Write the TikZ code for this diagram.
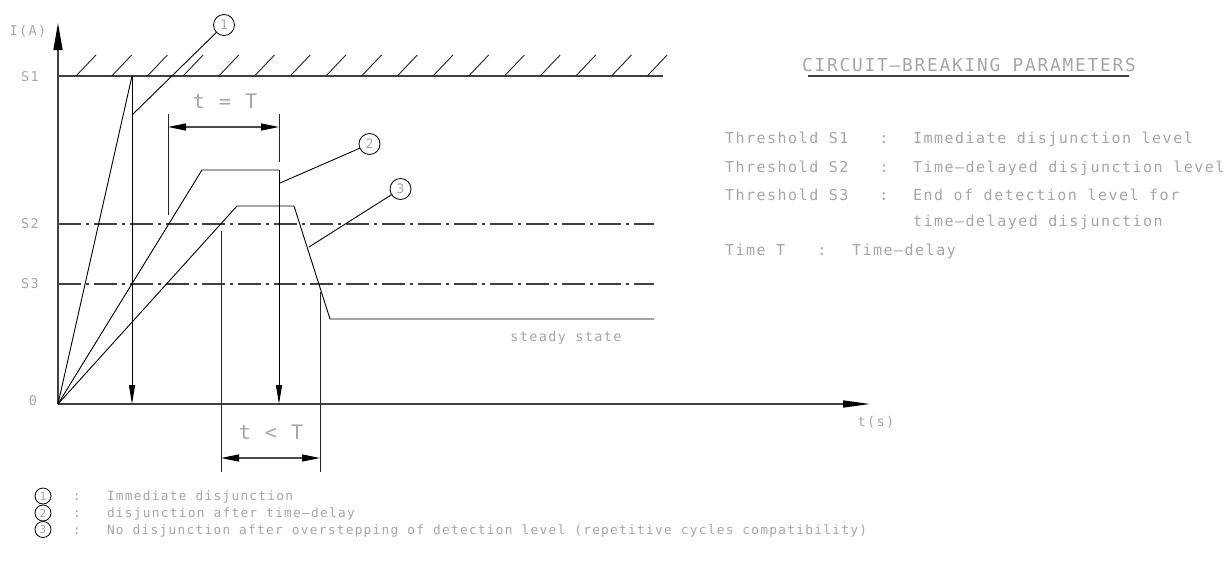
\documentclass[tikz,border=0pt]{standalone}
\usepackage{fontspec}
\setmainfont{DejaVu Sans}
\newfontfamily\cadfont[LetterSpace=10]{DejaVu Sans Mono}
\usetikzlibrary{arrows.meta}
\definecolor{txt}{HTML}{A6A6A6}
\begin{document}
\begin{tikzpicture}[x=1pt,y=-1pt,
  every node/.style={inner sep=0pt, outer sep=0pt},
  txtA/.style={text=txt, font=\cadfont\fontsize{13.5}{16}\selectfont},
  txtB/.style={text=txt, font=\cadfont\fontsize{15}{18}\selectfont},
  txtC/.style={text=txt, font=\cadfont\fontsize{12.8}{15}\selectfont},
  txtD/.style={text=txt, font=\cadfont\fontsize{20}{24}\selectfont},
  txtT/.style={text=txt, font=\cadfont\fontsize{17.8}{20}\selectfont},
  curve/.style={line width=0.9pt, black},
  axis/.style={line width=1.4pt, black!75},
  ctr/.style={dash pattern=on 23pt off 5pt on 3pt off 5pt, line width=1.2pt, black!75},
  ext/.style={line width=0.9pt, black!85},
  dimline/.style={line width=1.3pt, black!70, {Triangle[length=18pt,width=7pt,black]}-{Triangle[length=18pt,width=7pt,black]}},
  downarrow/.style={curve, -{Triangle[length=19pt,width=6pt]}},
  callout/.style={circle, draw=black, line width=0.8pt, minimum size=21pt, text=txt, font=\cadfont\fontsize{13}{14}\selectfont},
  legcirc/.style={circle, draw=black, line width=0.8pt, minimum size=16pt, text=txt, font=\cadfont\fontsize{11}{12}\selectfont},
]
\useasboundingbox (0,0) rectangle (1230,562);
\fill[white] (0,0) rectangle (1230,562);

% coordinates
\coordinate (O) at (58,404);
\coordinate (Ytip) at (58,23);
\coordinate (Xtip) at (870,404);
\coordinate (S1L) at (58,76);   \coordinate (S1R) at (663,76);
\coordinate (S2L) at (58,224);  \coordinate (S2R) at (654,224);
\coordinate (S3L) at (58,284);  \coordinate (S3R) at (654,284);
\coordinate (A1) at (132,76);   \coordinate (A1b) at (132,404);
\coordinate (B1) at (202,170);  \coordinate (B2) at (279,170); \coordinate (B2b) at (279,404);
\coordinate (C1) at (237,206);  \coordinate (C2) at (294,206);
\coordinate (C3) at (330,319);  \coordinate (C4) at (654,319);
\coordinate (L1) at (132,115);  \coordinate (L2) at (280,183); \coordinate (L3) at (309,247);
\coordinate (E1t) at (168,114); \coordinate (E1b) at (168,215);
\coordinate (E2t) at (279,114); \coordinate (E2b) at (279,162);
\coordinate (D1a) at (168,127); \coordinate (D1b) at (279,127);
\coordinate (F1t) at (221,231); \coordinate (F1b) at (221,472);
\coordinate (F2t) at (320,292); \coordinate (F2b) at (320,472);
\coordinate (D2a) at (221,458); \coordinate (D2b) at (320,458);

% threshold lines
\draw[axis, line width=1.2pt] (S1L) -- (S1R);
\foreach \i in {0,...,16} { \draw[line width=0.9pt, black!85] (76+35.7*\i,76) -- ++(20,-21); }
\draw[ctr] (S2L) -- (S2R);
\draw[ctr] (S3L) -- (S3R);

% axes
\draw[axis, -{Triangle[length=27pt,width=9pt,black]}] (O) -- (Ytip);
\draw[axis, -{Triangle[length=27pt,width=7pt,black]}] (O) -- (Xtip);

% curves
\draw[curve] (O) -- (A1);
\draw[downarrow] (A1) -- (A1b);
\draw[curve] (O) -- (B1) -- (B2);
\draw[downarrow] (B2) -- (B2b);
\draw[curve] (O) -- (C1) -- (C2) -- (C3) -- (C4);

% callouts
\node[callout] (c1) at (224,25) {1};
\node[callout] (c2) at (369.5,144) {2};
\node[callout] (c3) at (400.5,189) {3};
\draw[curve] (L1) -- (c1);
\draw[curve] (L2) -- (c2);
\draw[curve] (L3) -- (c3);

% dimension t = T
\draw[ext] (E1t) -- (E1b);
\draw[ext] (E2t) -- (E2b);
\draw[dimline] (D1a) -- (D1b);
\node[txtD] (tT) at (225,101) {t = T};

% dimension t < T
\draw[ext] (F1t) -- (F1b);
\draw[ext] (F2t) -- (F2b);
\draw[dimline] (D2a) -- (D2b);
\node[txtD] (tlT) at (271,432) {t < T};

% axis labels
\node[txtA] (IA) at (28,31) {I(A)};
\node[txtA] (lS1) at (30,77) {S1};
\node[txtA] (lS2) at (30,224) {S2};
\node[txtA] (lS3) at (30,284) {S3};
\node[txtA] (l0) at (33,401) {0};
\node[txtA] (ts) at (876,422) {t(s)};
\node[txtA, anchor=base] (ss) at (566,341) {steady state};

% parameters
\node[txtT, anchor=base] (title) at (969,71.5) {CIRCUIT—BREAKING PARAMETERS};
\draw[line width=1.1pt, black!75] (808,76) -- (1129,76);

\node[txtB, anchor=base west] (p1) at (725,143.5) {Threshold S1};
\node[txtB, anchor=base] (p1c) at (884,143.5) {:};
\node[txtB, anchor=base west] (p1t) at (913,143.5) {Immediate disjunction level};
\node[txtB, anchor=base west] (p2) at (725,172.5) {Threshold S2};
\node[txtB, anchor=base] (p2c) at (884,172.5) {:};
\node[txtB, anchor=base west] (p2t) at (913,172.5) {Time—delayed disjunction level};
\node[txtB, anchor=base west] (p3) at (725,200.5) {Threshold S3};
\node[txtB, anchor=base] (p3c) at (884,200.5) {:};
\node[txtB, anchor=base west] (p3t) at (913,200.5) {End of detection level for};
\node[txtB, anchor=base west] (p3u) at (913,226) {time—delayed disjunction};
\node[txtB, anchor=base west] (p4) at (725,255) {Time T};
\node[txtB, anchor=base] (p4c) at (822,255) {:};
\node[txtB, anchor=base west] (p4t) at (852,255) {Time—delay};

% legend
\node[legcirc] (k1) at (43,496) {1};
\node[legcirc] (k2) at (43,513) {2};
\node[legcirc] (k3) at (43,529.5) {3};
\node[txtC, anchor=base] (k1c) at (77,500.5) {:};
\node[txtC, anchor=base] (k2c) at (77,517.5) {:};
\node[txtC, anchor=base] (k3c) at (77,534) {:};
\node[txtC, anchor=base west] (k1t) at (107,500.5) {Immediate disjunction};
\node[txtC, anchor=base west] (k2t) at (107,517.5) {disjunction after time—delay};
\node[txtC, anchor=base west] (k3t) at (107,534) {No disjunction after overstepping of detection level (repetitive cycles compatibility)};
\end{tikzpicture}
\end{document}
